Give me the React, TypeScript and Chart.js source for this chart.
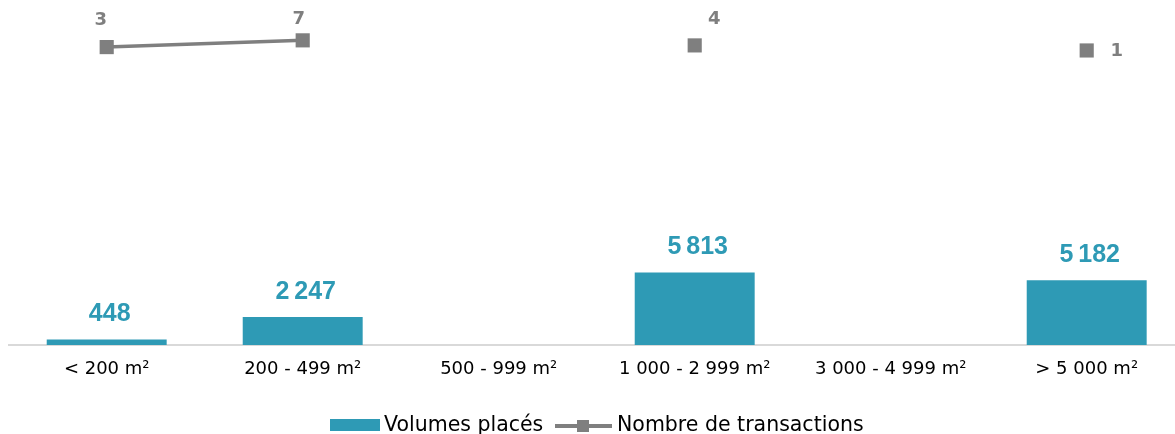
import React, { useEffect, useRef } from 'react';
import { Chart, registerables } from 'chart.js';

Chart.register(...registerables);

const categories = ['< 200 m²', '200 - 499 m²', '500 - 999 m²', '1 000 - 2 999 m²', '3 000 - 4 999 m²', '> 5 000 m²'];
const volumes: (number | null)[] = [448, 2247, null, 5813, null, 5182];
const transactions: (number | null)[] = [3, 7, null, 4, null, 1];
const seriesNames = ['Volumes placés', 'Nombre de transactions'];

const TEAL = '#2E9AB5';
const GREY = '#7F7F7F';

// style: label offsets for the line labels (dx, dy from point)
const lineLabelOffsets: [number, number][] = [[-6, -27], [-4, -21], [0, 0], [19.5, -26], [0, 0], [30, 1]];

const fmt = (v: number) => String(v).replace(/\B(?=(\d{3})+(?!\d))/g, '\u202F');

const labelsPlugin = {
  id: 'dataLabels',
  afterDatasetsDraw(chart: any) {
    const ctx = chart.ctx;
    ctx.save();
    ctx.textAlign = 'center';
    ctx.textBaseline = 'middle';
    const barMeta = chart.getDatasetMeta(0);
    ctx.font = 'bold 25px "Liberation Sans", Arial, sans-serif';
    ctx.fillStyle = TEAL;
    barMeta.data.forEach((el: any, i: number) => {
      const v = volumes[i];
      if (v == null || isNaN(el.y)) return;
      ctx.fillText(fmt(v), el.x + 3, el.y - 25);
    });
    const lineMeta = chart.getDatasetMeta(1);
    ctx.font = 'bold 18px "DejaVu Sans", sans-serif';
    ctx.fillStyle = GREY;
    lineMeta.data.forEach((el: any, i: number) => {
      const v = transactions[i];
      if (v == null || isNaN(el.y)) return;
      const [dx, dy] = lineLabelOffsets[i];
      ctx.fillText(String(v), el.x + dx, el.y + dy);
    });
    ctx.restore();
  },
};

const legendPlugin = {
  id: 'customLegend',
  afterDraw(chart: any) {
    const ctx = chart.ctx;
    ctx.save();
    ctx.fillStyle = TEAL;
    ctx.fillRect(330, 419, 50, 12);
    ctx.font = '20.5px "DejaVu Sans", sans-serif';
    ctx.fillStyle = '#000';
    ctx.textAlign = 'left';
    ctx.textBaseline = 'alphabetic';
    ctx.fillText(seriesNames[0], 384, 431);
    ctx.strokeStyle = GREY;
    ctx.lineWidth = 4;
    ctx.beginPath();
    ctx.moveTo(555, 426);
    ctx.lineTo(612, 426);
    ctx.stroke();
    ctx.fillStyle = GREY;
    ctx.fillRect(577, 420, 12, 12);
    ctx.fillStyle = '#000';
    ctx.fillText(seriesNames[1], 617, 431);
    ctx.restore();
  },
};

export default function App() {
  const ref = useRef<HTMLCanvasElement | null>(null);
  useEffect(() => {
    if (!ref.current) return;
    const chart = new Chart(ref.current, {
      type: 'bar',
      data: {
        labels: categories,
        datasets: [
          {
            type: 'bar',
            label: seriesNames[0],
            data: volumes,
            backgroundColor: TEAL,
            yAxisID: 'y',
            barPercentage: 0.612,
            categoryPercentage: 1,
            order: 2,
          } as any,
          {
            type: 'line',
            label: seriesNames[1],
            data: transactions,
            borderColor: GREY,
            backgroundColor: GREY,
            borderWidth: 3.5,
            pointStyle: 'rect',
            pointRadius: 10,
            pointBackgroundColor: GREY,
            pointBorderColor: GREY,
            pointBorderWidth: 0,
            yAxisID: 'y1',
            spanGaps: false,
            order: 1,
            clip: false,
          } as any,
        ],
      },
      options: {
        animation: false,
        responsive: false,
        devicePixelRatio: 1,
        layout: { autoPadding: false, padding: { left: 8.7, right: 1.3, top: 10, bottom: 49 } },
        plugins: { legend: { display: false }, tooltip: { enabled: false } },
        scales: {
          x: {
            grid: { display: false, drawTicks: false },
            border: { display: true, color: '#D9D9D9', width: 2 },
            ticks: {
              padding: 14,
              color: '#000',
              font: { family: '"DejaVu Sans", sans-serif', size: 18 },
              maxRotation: 0,
              autoSkip: false,
            },
            afterFit: (s: any) => {
              s.height = 40;
            },
          },
          y: { display: false, min: 0, max: 26860 },
          y1: { display: false, min: -173.7, max: 25 },
        },
      } as any,
      plugins: [labelsPlugin, legendPlugin],
    });
    return () => chart.destroy();
  }, []);
  return (
    <div style={{ position: 'fixed', left: 0, top: 0, width: 1175, height: 434, overflow: 'hidden', background: '#fff' }}>
      <canvas ref={ref} width={1186} height={434} style={{ display: 'block', width: 1186, height: 434 }} />
    </div>
  );
}
